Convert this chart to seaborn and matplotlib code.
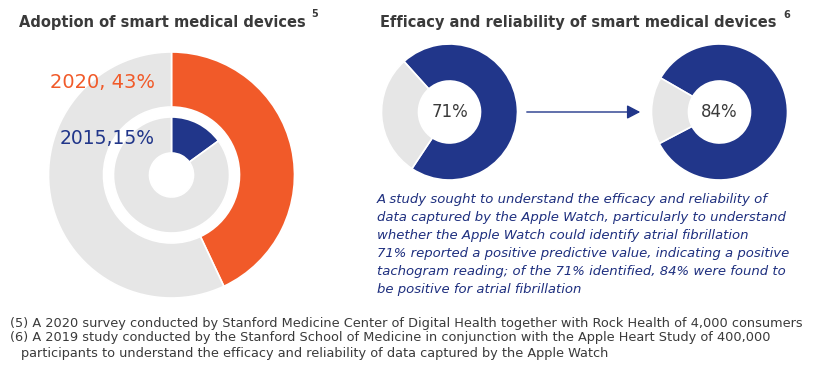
import matplotlib
matplotlib.use("Agg")
import matplotlib.pyplot as plt
import seaborn as sns

# ---------------- data ----------------
adoption_years = ["2020", "2015"]
adoption_pct = [43, 15]
adoption_labels = ["2020, 43%", "2015,15%"]

efficacy_pct = [71, 84]
efficacy_labels = ["71%", "84%"]

title_left = "Adoption of smart medical devices"
title_right = "Efficacy and reliability of smart medical devices"
note_left = "5"
note_right = "6"

paragraph = [
    "A study sought to understand the efficacy and reliability of",
    "data captured by the Apple Watch, particularly to understand",
    "whether the Apple Watch could identify atrial fibrillation",
    "71% reported a positive predictive value, indicating a positive",
    "tachogram reading; of the 71% identified, 84% were found to",
    "be positive for atrial fibrillation",
]
footnotes = [
    "(5) A 2020 survey conducted by Stanford Medicine Center of Digital Health together with Rock Health of 4,000 consumers",
    "(6) A 2019 study conducted by the Stanford School of Medicine in conjunction with the Apple Heart Study of 400,000",
    "participants to understand the efficacy and reliability of data captured by the Apple Watch",
]

# ---------------- style ----------------
sns.set_theme(style="white")
plt.rcParams["font.family"] = ["DejaVu Sans"]

ORANGE = "#F15A29"
NAVY = "#21368A"
TEXTNAVY = "#1E2F7F"
GREY = "#E6E6E6"
DARK = "#3A3A3A"

W, H = 830, 375
fig = plt.figure(figsize=(W / 100, H / 100), dpi=100)


def px_axes(cx, cy, r):
    ax = fig.add_axes([(cx - r) / W, 1 - (cy + r) / H, 2 * r / W, 2 * r / H])
    ax.set_axis_off()
    return ax


def finish(ax):
    ax.set_xlim(-1, 1)
    ax.set_ylim(-1, 1)
    ax.set_aspect("equal")


# ---------------- left: nested donut ----------------
R_OUT = 123
ax = px_axes(171.5, 175, R_OUT)
wedge = dict(edgecolor="white", linewidth=1.2)
ax.pie([adoption_pct[0], 100 - adoption_pct[0]], radius=1.0,
       colors=[ORANGE, GREY], startangle=90, counterclock=False,
       wedgeprops=dict(width=(R_OUT - 68) / R_OUT, **wedge))
ax.pie([adoption_pct[1], 100 - adoption_pct[1]], radius=58 / R_OUT,
       colors=[NAVY, GREY], startangle=90, counterclock=False,
       wedgeprops=dict(width=(58 - 22) / R_OUT, **wedge))
finish(ax)

fig.text(155 / W, 1 - 83 / H, adoption_labels[0], color=ORANGE, fontsize=14,
         fontweight="medium", ha="right", va="center")
fig.text(155 / W, 1 - 138 / H, adoption_labels[1], color=NAVY, fontsize=13.5,
         fontweight="medium", ha="right", va="center")

# ---------------- right: two donuts ----------------
R2 = 68
starts = [132, 150]
centers = [(449.5, 112), (719.5, 112)]
for (cx, cy), pct, lab, st in zip(centers, efficacy_pct, efficacy_labels, starts):
    a = px_axes(cx, cy, R2)
    a.pie([pct, 100 - pct], radius=1.0, colors=[NAVY, GREY], startangle=st,
          counterclock=False,
          wedgeprops=dict(width=(R2 - 31) / R2, edgecolor="white", linewidth=1.2))
    finish(a)
    fig.text(cx / W, 1 - cy / H, lab, color=DARK, fontsize=12,
             ha="center", va="center")

# arrow
fig.add_artist(matplotlib.patches.FancyArrowPatch(
    (524 / W, 1 - 112 / H), (643 / W, 1 - 112 / H), transform=fig.transFigure,
    arrowstyle="-|>,head_length=4,head_width=2.1", color=NAVY, linewidth=1.0,
    mutation_scale=2))

# ---------------- titles ----------------
fig.text(19 / W, 1 - 22 / H, title_left, color=DARK, fontsize=10.5,
         fontweight="bold", ha="left", va="center")
fig.text(315 / W, 1 - 14 / H, note_left, color=DARK, fontsize=7,
         fontweight="bold", ha="center", va="center")
fig.text(380 / W, 1 - 22 / H, title_right, color=DARK, fontsize=10.5,
         fontweight="bold", ha="left", va="center")
fig.text(787 / W, 1 - 15 / H, note_right, color=DARK, fontsize=7,
         fontweight="bold", ha="center", va="center")

# ---------------- paragraph ----------------
for i, line in enumerate(paragraph):
    fig.text(377 / W, 1 - (200 + 18 * i) / H, line, color=TEXTNAVY, fontsize=9.5,
             style="italic", ha="left", va="center")

# ---------------- footnotes ----------------
for xx, yy, line in zip([10, 10, 21], [323, 338, 353], footnotes):
    fig.text(xx / W, 1 - yy / H, line, color=DARK, fontsize=9.3,
             ha="left", va="center")

fig.savefig("out.png", dpi=100)
